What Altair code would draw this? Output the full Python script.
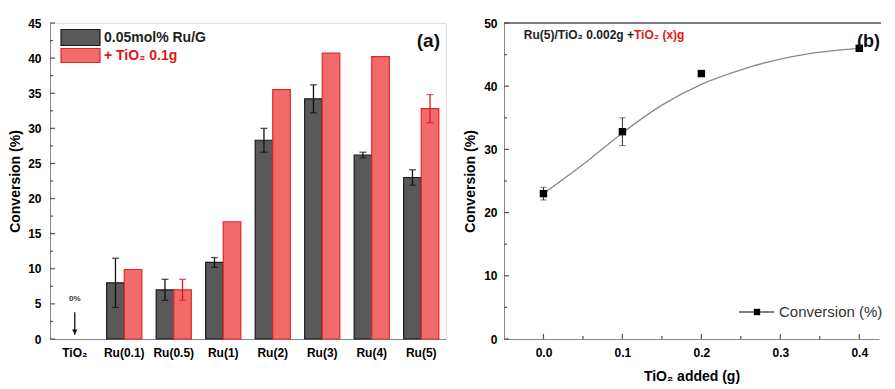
import altair as alt
import pandas as pd

# ---------------- Panel (a) data ----------------
categories = ["TiO₂", "Ru(0.1)", "Ru(0.5)", "Ru(1)", "Ru(2)", "Ru(3)", "Ru(4)", "Ru(5)"]
series_names = ["0.05mol% Ru/G", "+ TiO₂ 0.1g"]
rug_values = [0.0, 8.0, 7.0, 10.9, 28.3, 34.2, 26.2, 23.0]
rug_errors = [None, 3.5, 1.5, 0.7, 1.7, 2.0, 0.4, 1.1]
tio2_values = [0.0, 9.9, 7.0, 16.7, 35.5, 40.7, 40.2, 32.8]
tio2_errors = [None, None, 1.5, None, None, None, None, 2.0]
zero_label = "0%"

# ---------------- Panel (b) data ----------------
tio2_added = [0.0, 0.1, 0.2, 0.4]
conversion = [23.0, 32.8, 42.0, 46.0]
conversion_err = [1.0, 2.2, None, None]
fit_x = [0.0, 0.05, 0.1, 0.15, 0.2, 0.25, 0.3, 0.35, 0.4]
fit_y = [23.0, 27.6, 32.6, 37.0, 40.3, 42.6, 44.3, 45.4, 46.0]

FONT = "Liberation Sans"
DARK = "#595959"
RED = "#f26b6b"
RED_EDGE = "#e02828"
AXIS_COL = "#555555"
TITLE_SIZE = 14
LABEL_SIZE = 12

# ---------------- build tables ----------------
rows = []
for c, v, e in zip(categories, rug_values, rug_errors):
    rows.append({"cat": c, "series": series_names[0], "value": v, "err": e})
for c, v, e in zip(categories, tio2_values, tio2_errors):
    rows.append({"cat": c, "series": series_names[1], "value": v, "err": e})
df = pd.DataFrame(rows)
df_bars = df[df["value"] > 0].copy()
df_err = df[df["err"].notna()].copy()
df_err["lo"] = df_err["value"] - df_err["err"]
df_err["hi"] = df_err["value"] + df_err["err"]

W_A, H_A = 396, 316
scale_ya = alt.Scale(domain=[0, 45], nice=False, zero=True)
axis_ya = alt.Axis(values=list(range(0, 50, 5)), title="Conversion (%)", ticks=False,
                   labelPadding=9, titlePadding=5, grid=False,
                   labelFontWeight="bold", labelFontSize=LABEL_SIZE,
                   titleFontSize=TITLE_SIZE, titleFontWeight="bold", titleFont=FONT)
x_a = alt.X("cat:N", sort=categories, title=None,
            scale=alt.Scale(domain=categories, paddingInner=0.29, paddingOuter=0.145),
            axis=alt.Axis(labelAngle=0, ticks=False, labelPadding=8, grid=False,
                          labelFontWeight="bold", labelFontSize=LABEL_SIZE))
xoff = alt.XOffset("series:N", sort=series_names,
                   scale=alt.Scale(domain=series_names, paddingInner=0, paddingOuter=0))
fill_scale = alt.Scale(domain=series_names, range=[DARK, RED])
stroke_scale = alt.Scale(domain=series_names, range=["#1a1a1a", RED_EDGE])
err_scale = alt.Scale(domain=series_names, range=["#111111", "#e01818"])

def ya(field):
    return alt.Y(field, type="quantitative", scale=scale_ya, axis=axis_ya)

bars = alt.Chart(df_bars).mark_bar(strokeWidth=1.2).encode(
    x=x_a, xOffset=xoff, y=ya("value"),
    fill=alt.Fill("series:N", scale=fill_scale, legend=None),
    stroke=alt.Stroke("series:N", scale=stroke_scale, legend=None),
)
err_rule = alt.Chart(df_err).mark_rule(strokeWidth=1.3).encode(
    x=x_a, xOffset=xoff, y=ya("lo"), y2="hi",
    color=alt.Color("series:N", scale=err_scale, legend=None),
)
err_cap_hi = alt.Chart(df_err).mark_tick(size=7, thickness=1.3).encode(
    x=x_a, xOffset=xoff, y=ya("hi"),
    color=alt.Color("series:N", scale=err_scale, legend=None),
)
err_cap_lo = alt.Chart(df_err).mark_tick(size=7, thickness=1.3).encode(
    x=x_a, xOffset=xoff, y=ya("lo"),
    color=alt.Color("series:N", scale=err_scale, legend=None),
)

# zero arrow for TiO2
df_arrow = pd.DataFrame({"cat": [categories[0]], "top": [3.8], "bot": [0.6], "tip": [1.0], "lab": [5.7]})
arrow_line = alt.Chart(df_arrow).mark_rule(color="#111", strokeWidth=1.3).encode(
    x=x_a, y=ya("top"), y2="bot")
arrow_head = alt.Chart(df_arrow).mark_point(shape="triangle-down", filled=True, size=30,
                                            color="#111", opacity=1).encode(x=x_a, y=ya("tip"))
arrow_text = alt.Chart(df_arrow).mark_text(text=zero_label, font=FONT, fontSize=8,
                                           fontWeight="bold", color="#333").encode(x=x_a, y=ya("lab"))

# inward ticks (panel a)
df_ta_major = pd.DataFrame({"v": list(range(0, 50, 5))})
df_ta_minor = pd.DataFrame({"v": [2.5 + 5 * i for i in range(9)]})
ticks_a_major = alt.Chart(df_ta_major).mark_rule(color=AXIS_COL, strokeWidth=1.2).encode(
    y=ya("v"), x=alt.value(0), x2=alt.value(5))
ticks_a_minor = alt.Chart(df_ta_minor).mark_rule(color=AXIS_COL, strokeWidth=1.2).encode(
    y=ya("v"), x=alt.value(0), x2=alt.value(3))

# legend (a)
df_leg = pd.DataFrame({"series": series_names})
leg_rect_1 = alt.Chart(df_leg.iloc[[0]]).mark_rect(strokeWidth=1.2, fill=DARK, stroke="#1a1a1a").encode(
    x=alt.value(11), x2=alt.value(50), y=alt.value(6.5), y2=alt.value(22.5))
leg_rect_2 = alt.Chart(df_leg.iloc[[1]]).mark_rect(strokeWidth=1.2, fill=RED, stroke=RED_EDGE).encode(
    x=alt.value(11), x2=alt.value(50), y=alt.value(25.5), y2=alt.value(39.5))
leg_text_1 = alt.Chart(df_leg.iloc[[0]]).mark_text(align="left", baseline="middle", font=FONT,
                                                   fontSize=14, fontWeight="bold", color="#222").encode(
    x=alt.value(54), y=alt.value(14.5), text="series:N")
leg_text_2 = alt.Chart(df_leg.iloc[[1]]).mark_text(align="left", baseline="middle", font=FONT,
                                                   fontSize=14, fontWeight="bold", color="#e01818").encode(
    x=alt.value(54), y=alt.value(33), text="series:N")
label_a = alt.Chart(pd.DataFrame({"t": ["(a)"]})).mark_text(align="right", baseline="middle", font=FONT,
                                                            fontSize=19, fontWeight="bold", color="#111").encode(
    x=alt.value(W_A - 6), y=alt.value(18), text="t:N")

panel_a = alt.layer(bars, err_rule, err_cap_hi, err_cap_lo, arrow_line, arrow_head, arrow_text,
                    ticks_a_major, ticks_a_minor, leg_rect_1, leg_rect_2, leg_text_1, leg_text_2,
                    label_a).properties(width=W_A, height=H_A)

# ---------------- Panel (b) ----------------
W_B, H_B = 375, 316
scale_xb = alt.Scale(domain=[-0.05, 0.425], nice=False, zero=False)
scale_yb = alt.Scale(domain=[0, 50], nice=False)
axis_xb = alt.Axis(values=[0.0, 0.1, 0.2, 0.3, 0.4], format=".1f", title="TiO₂ added (g)",
                   ticks=False, labelPadding=8, titlePadding=11, grid=False,
                   labelFontWeight="bold", labelFontSize=LABEL_SIZE,
                   titleFontSize=TITLE_SIZE, titleFontWeight="bold", titleFont=FONT)
axis_yb = alt.Axis(values=[0, 10, 20, 30, 40, 50], title="Conversion (%)", ticks=False,
                   labelPadding=7, titlePadding=6, grid=False,
                   labelFontWeight="bold", labelFontSize=LABEL_SIZE,
                   titleFontSize=TITLE_SIZE, titleFontWeight="bold", titleFont=FONT)

def xb(field):
    return alt.X(field, type="quantitative", scale=scale_xb, axis=axis_xb)

def yb(field):
    return alt.Y(field, type="quantitative", scale=scale_yb, axis=axis_yb)

df_fit = pd.DataFrame({"x": fit_x, "y": fit_y})
df_pts = pd.DataFrame({"x": tio2_added, "y": conversion, "e": conversion_err})
df_perr = df_pts[df_pts["e"].notna()].copy()
df_perr["lo"] = df_perr["y"] - df_perr["e"]
df_perr["hi"] = df_perr["y"] + df_perr["e"]

fit_line = alt.Chart(df_fit).mark_line(color="#8a8a8a", strokeWidth=1.3, interpolate="monotone").encode(
    x=xb("x"), y=yb("y"))
pts = alt.Chart(df_pts).mark_square(size=55, color="#000", opacity=1).encode(x=xb("x"), y=yb("y"))
perr = alt.Chart(df_perr).mark_rule(color="#333", strokeWidth=1).encode(x=xb("x"), y=yb("lo"), y2="hi")
perr_hi = alt.Chart(df_perr).mark_tick(orient="horizontal", size=6, thickness=1, color="#333").encode(
    x=xb("x"), y=yb("hi"))
perr_lo = alt.Chart(df_perr).mark_tick(orient="horizontal", size=6, thickness=1, color="#333").encode(
    x=xb("x"), y=yb("lo"))

df_tb_xmaj = pd.DataFrame({"v": [0.0, 0.1, 0.2, 0.3, 0.4]})
df_tb_xmin = pd.DataFrame({"v": [0.05, 0.15, 0.25, 0.35]})
df_tb_ymaj = pd.DataFrame({"v": [0, 10, 20, 30, 40, 50]})
df_tb_ymin = pd.DataFrame({"v": [5, 15, 25, 35, 45]})
tb_xmaj = alt.Chart(df_tb_xmaj).mark_rule(color=AXIS_COL, strokeWidth=1.2).encode(
    x=xb("v"), y=alt.value(H_B), y2=alt.value(H_B - 5))
tb_xmin = alt.Chart(df_tb_xmin).mark_rule(color=AXIS_COL, strokeWidth=1.2).encode(
    x=xb("v"), y=alt.value(H_B), y2=alt.value(H_B - 3))
tb_ymaj = alt.Chart(df_tb_ymaj).mark_rule(color=AXIS_COL, strokeWidth=1.2).encode(
    y=yb("v"), x=alt.value(0), x2=alt.value(5))
tb_ymin = alt.Chart(df_tb_ymin).mark_rule(color=AXIS_COL, strokeWidth=1.2).encode(
    y=yb("v"), x=alt.value(0), x2=alt.value(3))
top_frame = alt.Chart(pd.DataFrame({"a": [0]})).mark_rule(color=AXIS_COL, strokeWidth=1.5).encode(
    x=alt.value(0), x2=alt.value(W_B + 2), y=alt.value(0))

note_black = "Ru(5)/TiO₂ 0.002g +"
note_red = "\u00a0TiO₂ (x)g"
note_1 = alt.Chart(pd.DataFrame({"t": [note_black]})).mark_text(
    align="right", baseline="middle", font=FONT, fontSize=12, fontWeight="bold", color="#222").encode(
    x=alt.value(130), y=alt.value(11.5), text="t:N")
note_2 = alt.Chart(pd.DataFrame({"t": [note_red]})).mark_text(
    align="left", baseline="middle", font=FONT, fontSize=12, fontWeight="bold", color="#e01818").encode(
    x=alt.value(130), y=alt.value(11.5), text="t:N")
label_b = alt.Chart(pd.DataFrame({"t": ["(b)"]})).mark_text(
    align="right", baseline="middle", font=FONT, fontSize=18, fontWeight="bold", color="#111").encode(
    x=alt.value(W_B + 1), y=alt.value(19), text="t:N")

legend_name = "Conversion (%)"
leg_b_line = alt.Chart(pd.DataFrame({"a": [0]})).mark_rule(color="#555", strokeWidth=1.3).encode(
    x=alt.value(235), x2=alt.value(270), y=alt.value(289))
leg_b_pt = alt.Chart(pd.DataFrame({"a": [0]})).mark_square(size=40, color="#000", opacity=1).encode(
    x=alt.value(253), y=alt.value(289))
leg_b_txt = alt.Chart(pd.DataFrame({"t": [legend_name]})).mark_text(
    align="left", baseline="middle", font=FONT, fontSize=15, color="#333").encode(
    x=alt.value(275), y=alt.value(289), text="t:N")

panel_b = alt.layer(fit_line, perr, perr_hi, perr_lo, pts, tb_xmaj, tb_xmin, tb_ymaj, tb_ymin,
                    top_frame, note_1, note_2, label_b, leg_b_line, leg_b_pt, leg_b_txt).properties(
    width=W_B, height=H_B, view=alt.ViewBackground(stroke="transparent"))

chart = alt.hconcat(panel_a, panel_b, spacing=16).properties(
    padding={"left": 0, "top": 8, "right": 0, "bottom": 0}
).configure_view(stroke=AXIS_COL, strokeWidth=1.5).configure_axis(
    labelFont=FONT, labelFontSize=LABEL_SIZE, labelFontWeight="bold", labelColor="#333",
    titleFont=FONT, titleFontSize=TITLE_SIZE, titleFontWeight="bold", titleColor="#222",
    domainColor=AXIS_COL, domainWidth=1.5,
).configure(background="white")

chart.save("out.html", embed_options={"renderer": "svg", "actions": False})
